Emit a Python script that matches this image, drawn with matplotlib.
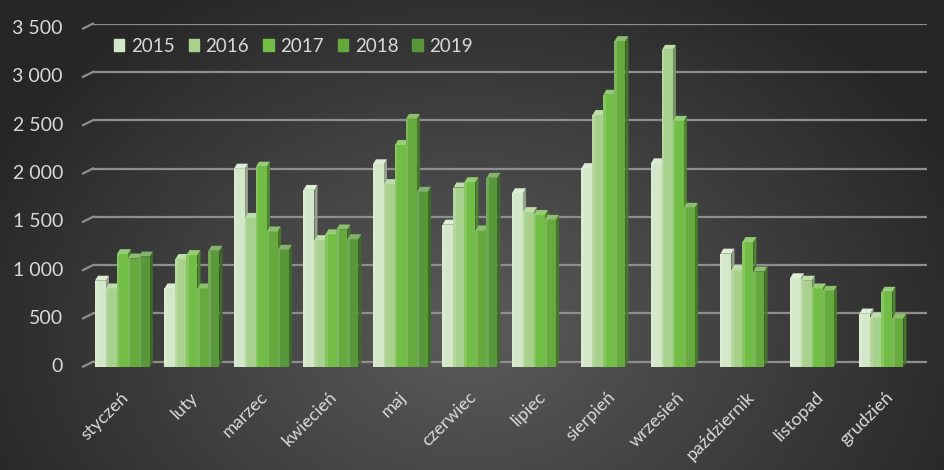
import numpy as np
import matplotlib
matplotlib.use("Agg")
import matplotlib.pyplot as plt
from matplotlib.patches import Polygon, Patch

months = ["styczeń", "luty", "marzec", "kwiecień", "maj", "czerwiec",
          "lipiec", "sierpień", "wrzesień", "październik", "listopad", "grudzień"]
years = ["2015", "2016", "2017", "2018", "2019"]

nan = np.nan
v2015 = [890, 810, 2050, 1830, 2095, 1470, 1795, 2055, 2105, 1170, 915, 550]
v2016 = [810, 1115, 1540, 1310, 1890, 1855, 1600, 2605, 3280, 1000, 890, 510]
v2017 = [1165, 1155, 2070, 1370, 2295, 1910, 1570, 2815, 2545, 1290, 810, 775]
v2018 = [1120, 810, 1400, 1420, 2565, 1410, 1520, 3370, 1645, 985, 785, 500]
v2019 = [1140, 1200, 1210, 1320, 1810, 1955, nan, nan, nan, nan, nan, nan]
series = [v2015, v2016, v2017, v2018, v2019]

colors = ["#d3e8c8", "#a9d18e", "#72bd45", "#66aa3e", "#58983a"]
yticks = [0, 500, 1000, 1500, 2000, 2500, 3000, 3500]

plt.rcParams["font.family"] = ["Lato", "DejaVu Sans"]

W, H = 945, 470
fig = plt.figure(figsize=(W / 100, H / 100), dpi=100)

# radial grey background
bg = fig.add_axes([0, 0, 1, 1], zorder=-10)
yy, xx = np.mgrid[0:H, 0:W]
r = np.sqrt(((xx - 470) / 560.0) ** 2 + ((yy - 330) / 420.0) ** 2)
shade = np.clip(0.36 - 0.22 * r, 0.15, 0.36)
bg.imshow(np.dstack([shade] * 3), aspect="auto", extent=[0, 1, 0, 1])
bg.axis("off")

# axes placement (pixels)
left_px, right_px = 93, 927
top_px, bottom_px = 23.6, 367.5
ax = fig.add_axes([left_px / W, 1 - bottom_px / H,
                   (right_px - left_px) / W, (bottom_px - top_px) / H])
ax.set_facecolor("none")
ax.set_xlim(-0.424, 11.576)
ax.set_ylim(-60, 3500)
for s in ax.spines.values():
    s.set_visible(False)

px_x = 1 / 69.5                      # data units per pixel in x
px_y = 3560 / (bottom_px - top_px)   # data units per pixel in y

grid_c = "#8e8e8e"
for t in yticks:
    ax.axhline(t, color=grid_c, lw=1.6, zorder=1)
    ax.plot([-0.424 - 10 * px_x, -0.424], [t - 5 * px_y, t], color=grid_c,
            lw=1.6, clip_on=False, zorder=1)
    ax.text(-0.424 - 30 * px_x, t - 5 * px_y, f"{t:,}".replace(",", " "),
            ha="right", va="center", color="#d9d9d9", fontsize=14)

x = np.arange(len(months))
bw = 11 * px_x
dx = 3 * px_x
dy = 5 * px_y


def shade_col(c, f):
    rgb = np.array(matplotlib.colors.to_rgb(c))
    if f < 1:
        return tuple(rgb * f)
    return tuple(rgb + (1 - rgb) * (f - 1))


for j, (vals, col) in enumerate(zip(series, colors)):
    xs = x + (j - 2) * bw
    vals = np.array(vals, dtype=float)
    ok = ~np.isnan(vals)
    ax.bar(xs[ok], vals[ok], width=bw, bottom=-dy, color=col,
           align="center", zorder=3 + j, lw=0)
    # light left edge of the front face
    ax.bar(xs[ok] - bw / 2, vals[ok], width=2.5 * px_x, bottom=-dy,
           color=shade_col(col, 1.15), align="edge", zorder=3 + j, lw=0)
    for xi, v in zip(xs[ok], vals[ok]):
        x0, x1 = xi - bw / 2, xi + bw / 2
        top = Polygon([(x0, v - dy), (x1, v - dy), (x1 + dx, v), (x0 + dx, v)],
                      closed=True, color=shade_col(col, 1.25), lw=0, zorder=3 + j)
        side = Polygon([(x1, -dy), (x1 + dx, 0), (x1 + dx, v), (x1, v - dy)],
                       closed=True, color=shade_col(col, 0.7), lw=0, zorder=3 + j)
        ax.add_patch(top)
        ax.add_patch(side)

ax.set_yticks([])
ax.set_xticks([])
label_y = 3500 - (389 - top_px) * px_y
for xi, m in zip(x, months):
    ax.text(xi - 2 * px_x, label_y, m, rotation=45, ha="right", va="top",
            rotation_mode="anchor", color="#d9d9d9", fontsize=13,
            clip_on=False)

handles = [Patch(color=c) for c in colors]
fig.legend(handles, years, loc="center left",
           bbox_to_anchor=(114 / W, 1 - 46 / H), ncol=5, frameon=False,
           fontsize=13.5, labelcolor="#d9d9d9", handlelength=0.55,
           handleheight=0.55, handletextpad=0.35, columnspacing=0.75,
           borderpad=0, borderaxespad=0)

fig.savefig("out.png", dpi=100)
